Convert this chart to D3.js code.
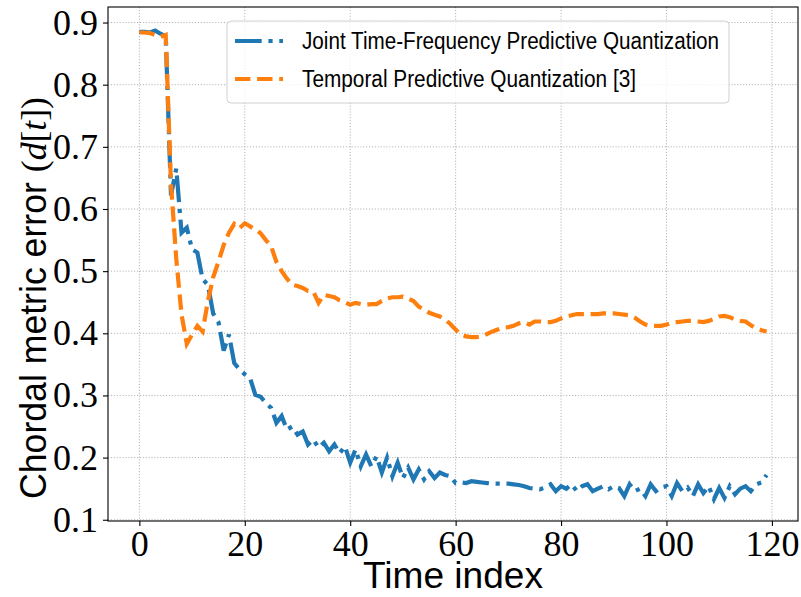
<!DOCTYPE html>
<html lang="en">
<head>
<meta charset="utf-8">
<title>Chordal metric error</title>
<script src="https://cdn.jsdelivr.net/npm/d3@7"></script>
<style>
  body { margin: 0; background: #fff; }
  .tick text { font-family: "Liberation Serif", serif; font-size: 36px; fill: #000; }
  .lbl { font-family: "Liberation Sans", sans-serif; font-size: 36px; fill: #000; }
  .leg { font-family: "Liberation Sans", sans-serif; font-size: 23px; fill: #000; }
</style>
</head>
<body>
<div id="chart"></div>
<script>
// time axis
var timeIndex = d3.range(0, 120);

// Joint Time-Frequency Predictive Quantization
var jointTF = [
  0.885,0.885,0.884,0.887,0.882,0.878,0.622,0.665,0.562,0.570,
  0.535,0.530,0.487,0.478,0.432,0.418,0.372,0.398,0.352,0.342,
  0.334,0.328,0.301,0.298,0.288,0.280,0.256,0.267,0.245,0.250,
  0.237,0.242,0.221,0.229,0.216,0.224,0.210,0.221,0.207,0.218,
  0.192,0.213,0.186,0.205,0.186,0.202,0.176,0.200,0.170,0.192,
  0.167,0.184,0.165,0.181,0.165,0.178,0.167,0.176,0.172,0.170,
  0.159,0.160,0.159,0.162,0.161,0.160,0.159,0.158,0.158,0.158,
  0.158,0.157,0.156,0.154,0.151,0.150,0.149,0.152,0.157,0.146,
  0.154,0.150,0.157,0.146,0.154,0.157,0.146,0.150,0.154,0.149,
  0.154,0.151,0.138,0.157,0.146,0.150,0.138,0.157,0.146,0.152,
  0.154,0.138,0.159,0.146,0.152,0.138,0.157,0.143,0.154,0.133,
  0.151,0.135,0.154,0.141,0.150,0.154,0.146,0.157,0.160,0.172
];

// Temporal Predictive Quantization [3]
var temporal = [
  0.884,0.884,0.883,0.880,0.877,0.880,0.640,0.520,0.430,0.383,
  0.398,0.412,0.403,0.452,0.490,0.515,0.542,0.562,0.576,0.569,
  0.577,0.572,0.567,0.561,0.550,0.540,0.515,0.500,0.488,0.478,
  0.476,0.473,0.468,0.467,0.449,0.462,0.460,0.458,0.453,0.450,
  0.446,0.449,0.447,0.446,0.447,0.447,0.452,0.456,0.458,0.458,
  0.459,0.456,0.452,0.443,0.438,0.433,0.430,0.427,0.422,0.415,
  0.406,0.398,0.395,0.394,0.394,0.395,0.399,0.403,0.406,0.409,
  0.410,0.412,0.416,0.418,0.414,0.419,0.419,0.418,0.418,0.420,
  0.424,0.427,0.429,0.431,0.431,0.431,0.431,0.431,0.432,0.432,
  0.432,0.431,0.430,0.429,0.425,0.419,0.414,0.412,0.412,0.412,
  0.414,0.417,0.418,0.419,0.420,0.420,0.419,0.418,0.420,0.423,
  0.427,0.428,0.426,0.422,0.420,0.419,0.413,0.408,0.405,0.403
];

var xTicks = [0, 20, 40, 60, 80, 100, 120];
var yTicks = [0.1, 0.2, 0.3, 0.4, 0.5, 0.6, 0.7, 0.8, 0.9];
var seriesNames = ["Joint Time-Frequency Predictive Quantization", "Temporal Predictive Quantization [3]"];

var width = 801, height = 597;
var margin = {top: 7, right: 3, bottom: 76, left: 108};
var w = width - margin.left - margin.right,
    h = height - margin.top - margin.bottom;

var svg = d3.select("#chart").append("svg")
    .attr("width", width)
    .attr("height", height);

var g = svg.append("g")
    .attr("transform", "translate(" + margin.left + "," + margin.top + ")");

var x = d3.scaleLinear().domain([-5.95, 124.95]).range([0, w]);
var y = d3.scaleLinear().domain([0.098, 0.925]).range([h, 0]);

// grid
g.append("g").selectAll("line").data(xTicks).enter().append("line")
    .attr("x1", function(d) { return x(d); }).attr("x2", function(d) { return x(d); })
    .attr("y1", 0).attr("y2", h)
    .attr("stroke", "#b0b0b0").attr("stroke-width", 1).attr("stroke-dasharray", "1.1,1.8");
g.append("g").selectAll("line").data(yTicks).enter().append("line")
    .attr("y1", function(d) { return y(d); }).attr("y2", function(d) { return y(d); })
    .attr("x1", 0).attr("x2", w)
    .attr("stroke", "#b0b0b0").attr("stroke-width", 1).attr("stroke-dasharray", "1.1,1.8");

// lines
var line = d3.line()
    .x(function(d, i) { return x(timeIndex[i]); })
    .y(function(d) { return y(d); });

g.append("path").datum(jointTF)
    .attr("d", line)
    .attr("fill", "none")
    .attr("stroke", "#1f77b4")
    .attr("stroke-width", 4.2)
    .attr("stroke-dasharray", "26.7,6.7,4.2,6.7");

g.append("path").datum(temporal)
    .attr("d", line)
    .attr("fill", "none")
    .attr("stroke", "#ff7f0e")
    .attr("stroke-width", 4.2)
    .attr("stroke-dasharray", "15.4,6.7");

// axes
var xAxis = g.append("g")
    .attr("transform", "translate(0," + h + ")")
    .call(d3.axisBottom(x).tickValues(xTicks).tickSize(5).tickPadding(4).tickFormat(d3.format("d")));
var yAxis = g.append("g")
    .call(d3.axisLeft(y).tickValues(yTicks).tickSize(5).tickPadding(5).tickFormat(d3.format(".1f")));
[xAxis, yAxis].forEach(function(a) {
    a.select(".domain").remove();
    a.selectAll(".tick line").attr("stroke", "#000").attr("stroke-width", 1.1);
});
xAxis.selectAll(".tick text").attr("dy", "0.72em");

// frame
g.append("rect")
    .attr("width", w).attr("height", h)
    .attr("fill", "none").attr("stroke", "#000").attr("stroke-width", 1.1);

// axis labels
svg.append("text").attr("class", "lbl")
    .attr("x", margin.left + w / 2).attr("y", 588)
    .attr("text-anchor", "middle")
    .attr("font-size", 35)
    .attr("textLength", 180).attr("lengthAdjust", "spacingAndGlyphs")
    .text("Time index");

var yl = svg.append("text").attr("class", "lbl")
    .attr("transform", "translate(46,298) rotate(-90)")
    .attr("text-anchor", "middle")
    .attr("textLength", 402).attr("lengthAdjust", "spacingAndGlyphs");
yl.append("tspan").text("Chordal metric error ");
yl.append("tspan").attr("font-family", "Liberation Serif").text("(");
yl.append("tspan").attr("font-family", "Liberation Serif").attr("font-style", "italic").text("d");
yl.append("tspan").attr("font-family", "Liberation Serif").text("[");
yl.append("tspan").attr("font-family", "Liberation Serif").attr("font-style", "italic").text("t");
yl.append("tspan").attr("font-family", "Liberation Serif").text("])");

// legend
var legend = svg.append("g");
legend.append("rect")
    .attr("x", 227).attr("y", 21).attr("width", 502).attr("height", 82)
    .attr("rx", 4)
    .attr("fill", "#fff").attr("fill-opacity", 0.8)
    .attr("stroke", "#d0d0d0").attr("stroke-width", 1);
var styles = [
    {color: "#1f77b4", dash: "26.7,6.7,4.2,6.7", len: 417},
    {color: "#ff7f0e", dash: "15.4,6.7", len: 334}
];
seriesNames.forEach(function(name, i) {
    var ly = 41 + i * 38;
    legend.append("line")
        .attr("x1", 235).attr("x2", 283).attr("y1", ly).attr("y2", ly)
        .attr("stroke", styles[i].color).attr("stroke-width", 4.2)
        .attr("stroke-dasharray", styles[i].dash);
    legend.append("text").attr("class", "leg")
        .attr("x", 302).attr("y", ly + 8)
        .attr("textLength", styles[i].len).attr("lengthAdjust", "spacingAndGlyphs")
        .text(name);
});
</script>
</body>
</html>
